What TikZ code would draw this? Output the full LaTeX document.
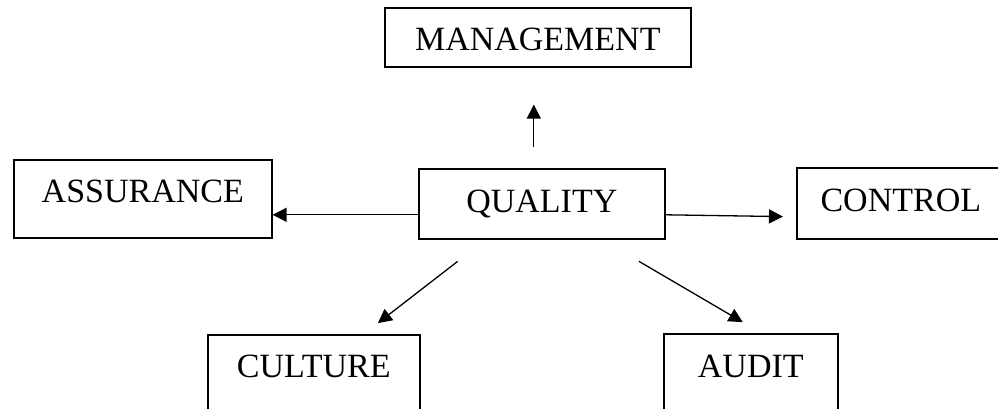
\documentclass[tikz,border=0pt]{standalone}
\usepackage{fontspec}
\setmainfont{Liberation Serif}
\usetikzlibrary{arrows.meta}
\begin{document}
\begin{tikzpicture}[x=1pt,y=-1pt,
  box/.style={draw, line width=1.6pt, anchor=north west, inner xsep=0pt, inner ysep=0pt,
    font=\fontsize{34}{40}\selectfont},
  arr/.style={line width=1.3pt, -{Triangle[length=14pt,width=14pt]}}]
\useasboundingbox (0,0) rectangle (998,409);
\clip (0,0) rectangle (998,409);

% boxes (the right and bottom ones run past the page edge)
\node[box, minimum width=306pt, text height=43pt, text depth=16pt] (mgmt)  at (384,7)   {MANAGEMENT};
\node[box, minimum width=258pt, text height=43pt, text depth=35pt] (assur) at (13,159)  {ASSURANCE};
\node[box, minimum width=246pt, text height=44pt, text depth=26pt] (qual)  at (418,168) {QUALITY};
\node[box, minimum width=208pt, text height=44pt, text depth=27pt] (ctrl)  at (796,167) {CONTROL};
\node[box, minimum width=212pt, text height=43pt, text depth=80pt] (cult)  at (207,334) {CULTURE};
\node[box, minimum width=174pt, text height=44pt, text depth=80pt] (audit) at (663,333) {AUDIT};

% arrows out of QUALITY
\draw[arr, shorten <=21pt, shorten >=37pt] ([xshift=-8pt]qual.north) -- ([xshift=-4pt]mgmt.south);
\draw[arr] ([yshift=-11pt]qual.west) -- ([yshift=-16pt]assur.east);
\draw[arr, shorten >=13pt] ([yshift=-11pt]qual.east) -- ([yshift=-13.5pt]ctrl.west);
\draw[arr, shorten <=35.6pt, shorten >=17.8pt] ([xshift=-56pt]qual.south) -- ([xshift=50pt]cult.north);
\draw[arr, shorten <=43pt, shorten >=21.5pt] ([xshift=60pt]qual.south) -- ([xshift=10.5pt]audit.north);
\end{tikzpicture}
\end{document}
